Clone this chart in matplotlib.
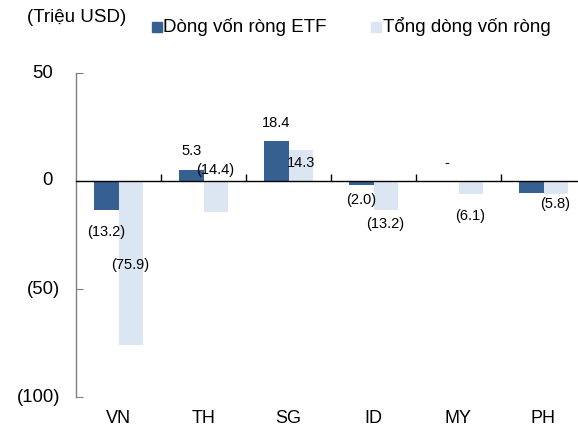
import matplotlib
matplotlib.use("Agg")
import matplotlib.pyplot as plt
from matplotlib.patches import Rectangle
from matplotlib.ticker import FixedLocator
import numpy as np

plt.rcParams['font.family'] = ['Liberation Sans', 'DejaVu Sans']

categories = ["VN", "TH", "SG", "ID", "MY", "PH"]
etf_flow = [-13.2, 5.3, 18.4, -2.0, 0.0, -5.7]
total_flow = [-75.9, -14.4, 14.3, -13.2, -6.1, -5.8]
etf_labels = ["(13.2)", "5.3", "18.4", "(2.0)", "-", ""]
total_labels = ["(75.9)", "(14.4)", "14.3", "(13.2)", "(6.1)", "(5.8)"]
series_names = ["Dòng vốn ròng ETF", "Tổng dòng vốn ròng"]
unit_label = "(Triệu USD)"
y_ticks = [-100, -50, 0, 50]

# label placement (y in data units) — styling only
etf_label_y = [-23.6, 14.0, 26.8, -8.8, 8.4, None]
total_label_y = [-38.9, 5.0, 8.4, -19.8, -16.4, -10.5]

dark = "#376092"
light = "#DCE6F2"

W, H = 578, 426
fig = plt.figure(figsize=(W / 100, H / 100), dpi=100)
ax_w = 510
ax = fig.add_axes([76 / W, 1 - 397 / H, ax_w / W, 324 / H])

x = np.arange(len(categories))
bw = 0.285
ax.bar(x - bw / 2, etf_flow, width=bw, color=dark, zorder=2)
ax.bar(x + bw / 2, total_flow, width=bw, color=light, zorder=2)

ax.set_xlim(-0.5, len(categories) - 0.5)
ax.set_ylim(-100, 50)
ax.set_yticks(y_ticks)
ax.tick_params(axis='y', direction='in', length=5, color='#808080', labelleft=False)

# Excel-style number format: positives padded so digits align with negatives in parentheses
for v in y_ticks:
    if v < 0:
        ax.text(-16 / ax_w, v, f"({abs(v)})", transform=ax.get_yaxis_transform(),
                ha='right', va='center', fontsize=13.3)
    else:
        ax.text(-23 / ax_w, v, f"{v}", transform=ax.get_yaxis_transform(),
                ha='right', va='center', fontsize=13.3)

for s in ['top', 'right']:
    ax.spines[s].set_visible(False)
ax.spines['left'].set_color('#808080')
ax.spines['left'].set_linewidth(1.0)
ax.spines['bottom'].set_position(('data', 0))
ax.spines['bottom'].set_color('black')
ax.spines['bottom'].set_linewidth(1.0)
ax.spines['bottom'].set_zorder(3)

ax.xaxis.set_major_locator(FixedLocator(list(x)))
ax.xaxis.set_minor_locator(FixedLocator(list(x[:-1] + 0.5)))
ax.tick_params(axis='x', which='major', length=0, labelbottom=False)
ax.tick_params(axis='x', which='minor', direction='in', length=5, color='black', width=1)

for xi, c in zip(x, categories):
    ax.text(xi, -0.066, c, transform=ax.get_xaxis_transform(), ha='center', va='center', fontsize=13)

for xi, lab, ly in zip(x, etf_labels, etf_label_y):
    if lab and ly is not None:
        ax.text(xi - bw / 2, ly, lab, ha='center', va='center', fontsize=10.5, zorder=4)
for xi, lab, ly in zip(x, total_labels, total_label_y):
    if lab and ly is not None:
        ax.text(xi + bw / 2, ly, lab, ha='center', va='center', fontsize=10.5, zorder=4)

# header / legend
fig.text(27 / W, 1 - 17 / H, unit_label, ha='left', va='center', fontsize=13.5)
fig.add_artist(Rectangle((152 / W, 1 - 32 / H), 9.5 / W, 10 / H, transform=fig.transFigure, color=dark))
fig.text(163 / W, 1 - 27 / H, series_names[0], ha='left', va='center', fontsize=13.5)
fig.add_artist(Rectangle((371 / W, 1 - 32 / H), 9.5 / W, 10 / H, transform=fig.transFigure, color=light))
fig.text(383 / W, 1 - 27 / H, series_names[1], ha='left', va='center', fontsize=13.5)

fig.savefig("out.png", dpi=100)
